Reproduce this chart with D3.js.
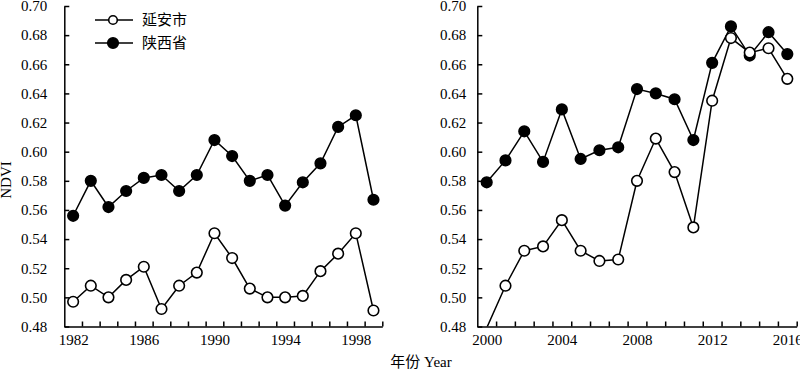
<!DOCTYPE html>
<html><head><meta charset="utf-8">
<script src="https://cdn.jsdelivr.net/npm/d3@7"></script>
<style>
body{margin:0;background:#fff;}
svg{display:block;}
svg text{font-family:"Liberation Serif","Times New Roman","Noto Sans CJK SC",serif !important;}
svg text.cjk{font-family:"Liberation Serif","Noto Sans CJK SC",sans-serif !important;}
</style></head><body>
<svg id="c" width="800" height="369"></svg>
<script>
const years1 = [1982,1983,1984,1985,1986,1987,1988,1989,1990,1991,1992,1993,1994,1995,1996,1997,1998,1999];
const yanan1 = [0.497,0.508,0.500,0.512,0.521,0.492,0.508,0.517,0.544,0.527,0.506,0.500,0.500,0.501,0.518,0.530,0.544,0.491];
const shaanxi1 = [0.556,0.580,0.562,0.573,0.582,0.584,0.573,0.584,0.608,0.597,0.580,0.584,0.563,0.579,0.592,0.617,0.625,0.567];
const years2 = [2000,2001,2002,2003,2004,2005,2006,2007,2008,2009,2010,2011,2012,2013,2014,2015,2016];
const yanan2 = [0.479,0.508,0.532,0.535,0.553,0.532,0.525,0.526,0.580,0.609,0.586,0.548,0.635,0.678,0.668,0.671,0.650];
const shaanxi2 = [0.579,0.594,0.614,0.593,0.629,0.595,0.601,0.603,0.643,0.640,0.636,0.608,0.661,0.686,0.666,0.682,0.667];
const yTicks = [0.48,0.50,0.52,0.54,0.56,0.58,0.60,0.62,0.64,0.66,0.68,0.70];
const xLabels1 = [1982,1986,1990,1994,1998];
const xLabels2 = [2000,2004,2008,2012,2016];
const seriesNames = ["延安市","陕西省"];
const yLabel = "NDVI";
const xTitle = "年份 Year";

const svg = d3.select("#c");
const plotTop = 6, plotBottom = 326.5;
const y = d3.scaleLinear().domain([0.48,0.70]).range([plotBottom, plotTop]);

function panel(years, yanan, shaanxi, x0, x1, labels, pad){
  const x = d3.scaleLinear().domain([years[0]-0.5, years[years.length-1]+0.5]).range([x0, x1]);
  const g = svg.append("g");
  const ya = g.append("g").attr("transform",`translate(${x0},0)`)
    .call(d3.axisLeft(y).tickValues(yTicks).tickFormat(d3.format(".2f")).tickSizeInner(-5).tickSizeOuter(0).tickPadding(pad));
  const halfs = d3.range(years[0]+0.5, years[years.length-1]+1, 1);
  const xa = g.append("g").attr("transform",`translate(0,${plotBottom})`)
    .call(d3.axisBottom(x).tickValues(halfs).tickFormat("").tickSizeInner(-5).tickSizeOuter(0));
  const xl = g.append("g").attr("transform",`translate(0,${plotBottom})`)
    .call(d3.axisBottom(x).tickValues(labels).tickFormat(d3.format("d")).tickSize(0).tickPadding(8));
  xl.select(".domain").remove();
  [ya,xa,xl].forEach(a=>{
    a.attr("font-family",null);
    a.selectAll("path,line").attr("stroke","#000").attr("stroke-width",1.5);
    a.selectAll("text").attr("font-size",15).attr("fill","#000");
  });
  const clipId = "clip"+Math.round(x0);
  svg.append("clipPath").attr("id",clipId).append("rect").attr("x",x0).attr("y",plotTop-10).attr("width",x1-x0+10).attr("height",plotBottom-plotTop+10);
  const line = d3.line().x((d,i)=>x(years[i])).y(d=>y(d));
  const pg = g.append("g").attr("clip-path",`url(#${clipId})`);
  [shaanxi,yanan].forEach(vals=>{
    pg.append("path").datum(vals).attr("d",line).attr("fill","none").attr("stroke","#000").attr("stroke-width",1.5);
  });
  [[shaanxi,"#000"],[yanan,"#fff"]].forEach(([vals,fill])=>{
    pg.selectAll(null).data(vals.map((v,i)=>({v,yr:years[i]})).filter(d=>d.v>=0.48))
      .enter().append("circle").attr("cx",d=>x(d.yr)).attr("cy",d=>y(d.v)).attr("r",5.3)
      .attr("fill",fill).attr("stroke","#000").attr("stroke-width",1.6);
  });
}
panel(years1, yanan1, shaanxi1, 64.3, 382.3, xLabels1, 17);
panel(years2, yanan2, shaanxi2, 477.3, 796.7, xLabels2, 11);

const leg = svg.append("g");
seriesNames.forEach((n,i)=>{
  const yy = 20 + i*23;
  leg.append("line").attr("x1",95).attr("x2",133).attr("y1",yy).attr("y2",yy).attr("stroke","#000").attr("stroke-width",1.5);
  leg.append("circle").attr("cx",113).attr("cy",yy).attr("r",i===0?4.3:5.3).attr("fill",i===0?"#fff":"#000").attr("stroke","#000").attr("stroke-width",1.6);
  leg.append("text").attr("class","cjk").attr("x",142).attr("y",yy).attr("dy","0.36em").attr("font-size",15).text(n);
});
svg.append("text").attr("transform","translate(11,180) rotate(-90)").attr("text-anchor","middle")
  .attr("font-size",15).text(yLabel);
svg.append("text").attr("class","cjk").attr("x",421).attr("y",362).attr("dy","0.36em").attr("text-anchor","middle")
  .attr("font-size",15).text(xTitle);
</script>
</body></html>
